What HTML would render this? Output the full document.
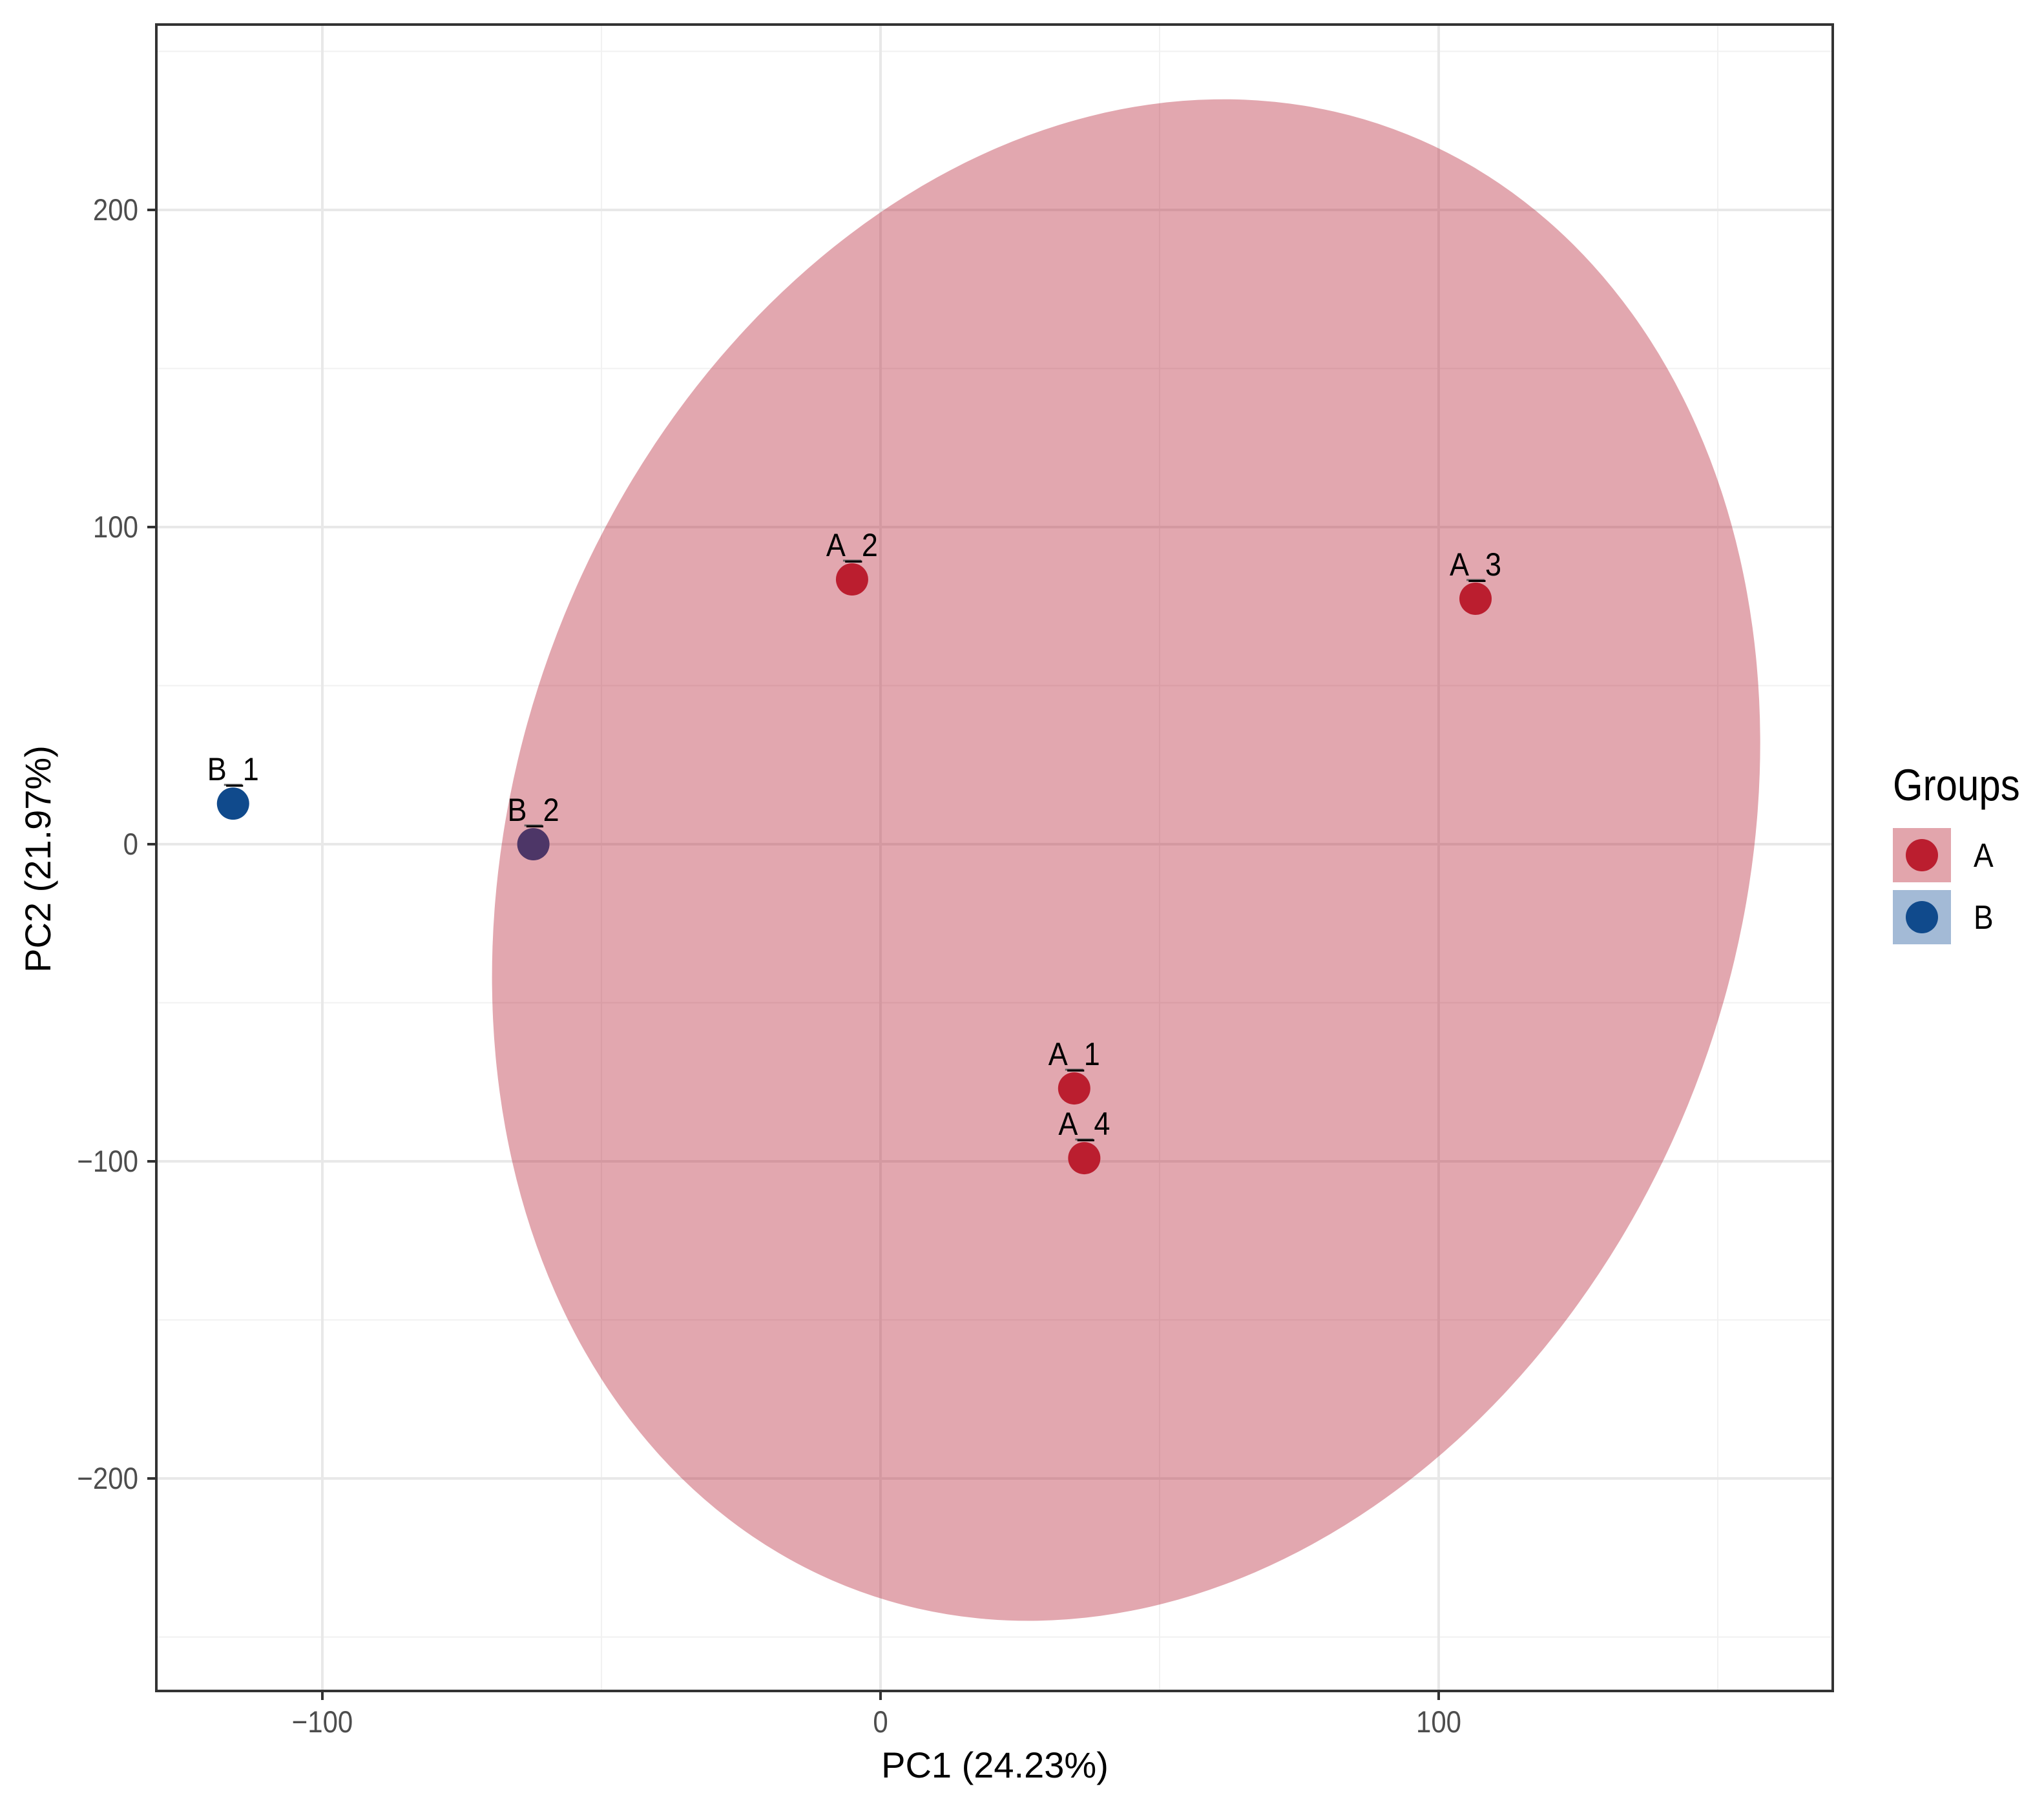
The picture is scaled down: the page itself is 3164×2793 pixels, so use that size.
<!DOCTYPE html>
<html><head><meta charset="utf-8"><style>
html,body{margin:0;padding:0;background:#fff}
svg{display:block}
text{font-family:"Liberation Sans",Arial,sans-serif}
</style></head><body>
<svg id="chart" width="3164" height="2793" viewBox="0 0 3164 2793" xmlns="http://www.w3.org/2000/svg">
<rect width="3164" height="2793" fill="#fff"/>
<g id="grid"></g>
<g id="ptsB"></g>
<g id="ell"></g>
<g id="pts"></g>
<g id="lbls"></g>
<g id="axes"></g>
<g id="legend"></g>
</svg>
<script>
const sampleNames = ["A_1","A_2","A_3","A_4","B_1","B_2"];
const sampleGroups = ["A","A","A","A","B","B"];
const pc1Values = [34.7,-5.1,106.6,36.5,-116,-62.2];
const pc2Values = [-77,83.5,77.4,-99,12.8,0];
const xTickValues = [-100,0,100];
const yTickValues = [-200,-100,0,100,200];
const xMinorValues = [-50,50,150];
const yMinorValues = [-250,-150,-50,50,150,250];
const groupNames = ["A","B"];
const ellipseCenterA = [44,-5];

const NS="http://www.w3.org/2000/svg";
const L=242,R=2837,T=38,B=2618;
function sx(v){return 1363+v*8.64;}
function sy(v){return 1307-v*4.91;}
function mk(tag,attrs,parent){const e=document.createElementNS(NS,tag);for(const k in attrs)e.setAttribute(k,attrs[k]);parent.appendChild(e);return e;}
const grid=document.getElementById('grid'),ell=document.getElementById('ell'),pts=document.getElementById('pts'),ptsB=document.getElementById('ptsB'),lbls=document.getElementById('lbls'),axes=document.getElementById('axes'),leg=document.getElementById('legend');
const colors={A:"#bb1e2f",B:"#104a8c"};

xMinorValues.forEach(v=>{const l=mk('line',{x1:sx(v),x2:sx(v),y1:T,y2:B,stroke:'#f1f1f1','stroke-width':2},grid);

});
yMinorValues.forEach(v=>{const l=mk('line',{x1:L,x2:R,y1:sy(v),y2:sy(v),stroke:'#f1f1f1','stroke-width':2},grid);

});
xTickValues.forEach(v=>{const l=mk('line',{x1:sx(v),x2:sx(v),y1:T,y2:B,stroke:'#e8e8e8','stroke-width':4},grid);

});
yTickValues.forEach(v=>{const l=mk('line',{x1:L,x2:R,y1:sy(v),y2:sy(v),stroke:'#e8e8e8','stroke-width':4},grid);

});

const ecx=sx(ellipseCenterA[0]),ecy=sy(ellipseCenterA[1]);
const e=mk('ellipse',{cx:ecx,cy:ecy,rx:948,ry:1205,transform:`rotate(20 ${ecx} ${ecy})`,fill:'#b4182c','fill-opacity':0.38},ell);



sampleNames.forEach((n,i)=>{
  const x=sx(pc1Values[i]),y=sy(pc2Values[i]);const g=sampleGroups[i];
  const c=mk('circle',{cx:x,cy:y,r:25,fill:colors[g]},g==='B'?ptsB:pts);
  
  
  const s=mk('line',{x1:x-14,x2:x+14,y1:y-29,y2:y-29,stroke:'#666','stroke-width':3},lbls);
  
  
  const t=mk('text',{x:x,y:(y-36)/1.12,'font-size':45,'text-anchor':'middle',fill:'#000',transform:'scale(1,1.12)'},lbls);
  t.textContent=n;
  
  
});

const frame=mk('rect',{x:L,y:T,width:R-L,height:B-T,fill:'none',stroke:'#333','stroke-width':4},axes);


xTickValues.forEach(v=>{
  const tk=mk('line',{x1:sx(v),x2:sx(v),y1:B,y2:B+14,stroke:'#333','stroke-width':4},axes);
  
  
  const t=mk('text',{x:sx(v),y:2682/1.12,'font-size':42,'text-anchor':'middle',fill:'#4d4d4d',transform:'scale(1,1.12)'},axes);
  t.textContent=v<0?'\u2212'+(-v):String(v);
  
  
});
yTickValues.forEach(v=>{
  const tk=mk('line',{x1:L-14,x2:L,y1:sy(v),y2:sy(v),stroke:'#333','stroke-width':4},axes);
  
  
  const t=mk('text',{x:214,y:(sy(v)+16)/1.12,'font-size':42,'text-anchor':'end',fill:'#4d4d4d',transform:'scale(1,1.12)'},axes);
  t.textContent=v<0?'\u2212'+(-v):String(v);
  
  
});
const xt=mk('text',{x:1540,y:2752,'font-size':56,'text-anchor':'middle',fill:'#000'},axes);
xt.textContent='PC1 (24.23%)';


const yt=mk('text',{x:0,y:0,'font-size':56,'text-anchor':'middle',fill:'#000',transform:'translate(78 1330) rotate(-90)'},axes);
yt.textContent='PC2 (21.97%)';



const lt=mk('text',{x:2930,y:1239/1.15,'font-size':60,fill:'#000',transform:'scale(1,1.15)'},leg);
lt.textContent='Groups';


const boxFill={A:'#e2a5ac',B:'#a3bad6'};
groupNames.forEach((g,i)=>{
  const y0=1282+i*96;
  const b=mk('rect',{x:2930,y:y0,width:90,height:84,fill:boxFill[g]},leg);
  
  
  const c=mk('circle',{cx:2975,cy:y0+42,r:25,fill:colors[g]},leg);
  
  
  const t=mk('text',{x:3055,y:(y0+60)/1.12,'font-size':46,fill:'#000',transform:'scale(1,1.12)'},leg);
  t.textContent=g;
  
  
});
</script>
</body></html>
